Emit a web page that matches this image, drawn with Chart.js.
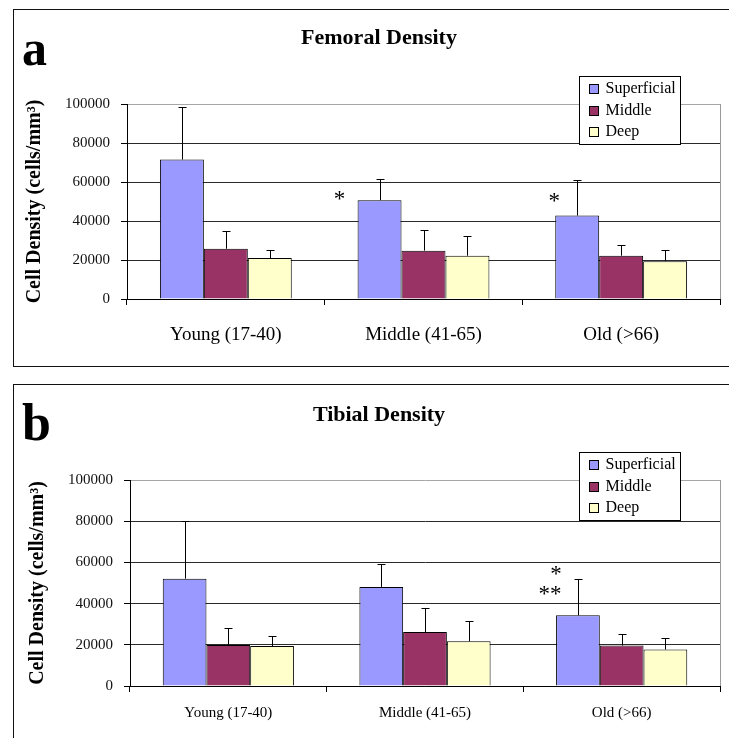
<!DOCTYPE html>
<html>
<head>
<meta charset="utf-8">
<script src="https://cdn.jsdelivr.net/npm/chart.js@4.4.1/dist/chart.umd.min.js"></script>
<style>
  html, body { margin: 0; padding: 0; background: #fff; }
  body {
    width: 729px; height: 738px; position: relative; overflow: hidden;
    font-family: "Liberation Serif", "Times New Roman", serif; color: #000;
  }
  .frame { position: absolute; left: 13px; width: 760px; border: 1px solid #111; }
  canvas { position: absolute; left: 0; }
  .title {
    position: absolute; left: 0; width: 758px; text-align: center;
    font-weight: bold; font-size: 22px; line-height: 24px; z-index: 2;
  }
  .letter { position: absolute; left: 22px; font-weight: bold; line-height: 1; z-index: 2; }
</style>
</head>
<body>

<div class="frame" style="top:9px; height:356px;"></div>
<div class="frame" style="top:384px; height:400px;"></div>

<div class="letter" style="top:23px; font-size:50px;">a</div>
<div class="title" style="top:25px;">Femoral Density</div>

<div class="letter" style="top:397px; font-size:52px;">b</div>
<div class="title" style="top:402px;">Tibial Density</div>

<canvas id="chart-a" width="729" height="370" style="top:0;"></canvas>
<canvas id="chart-b" width="729" height="358" style="top:380px;"></canvas>

<script>
// ---- data ----
const groups = ['Young (17-40)', 'Middle (41-65)', 'Old (>66)'];
const layers = ['Superficial', 'Middle', 'Deep'];
const layerColors = ['#9999FF', '#993366', '#FFFFCC'];
const yTitle = 'Cell Density (cells/mm³)';

// femoral (panel a): means and SD (error bars go up only)
const femSuperficial = [71500, 50700, 42800];
const femMiddle = [25800, 24800, 22200];
const femDeep = [21000, 22200, 19400];
const femSuperficialSD = [27100, 10900, 18200];
const femMiddleSD = [9300, 10500, 5500];
const femDeepSD = [4300, 10000, 5600];

// tibial (panel b)
const tibSuperficial = [52100, 48100, 34300];
const tibMiddle = [19900, 26200, 19600];
const tibDeep = [19400, 21700, 17700];
const tibSuperficialSD = [27800, 11000, 17600];
const tibMiddleSD = [8100, 11500, 5500];
const tibDeepSD = [4700, 9900, 5600];

// significance marks: group index, height in data units, text
const femMarks = [
  { group: 1, value: 53400, text: '*', dx: -18 },
  { group: 2, value: 52200, text: '*', dx: -1 }
];
const tibMarks = [
  { group: 2, value: 56500, text: '*', dx: 0 },
  { group: 2, value: 46800, text: '**', dx: -6 }
];

const serif = '"Liberation Serif", "Times New Roman", serif';

// ---- plugins ----
const errorBars = {
  id: 'errorBars',
  afterDatasetsDraw(chart) {
    const { ctx, scales: { y } } = chart;
    ctx.save();
    ctx.strokeStyle = '#000';
    ctx.lineWidth = 1;
    chart.data.datasets.forEach((ds, i) => {
      const meta = chart.getDatasetMeta(i);
      meta.data.forEach((bar, j) => {
        const top = Math.round(y.getPixelForValue(ds.data[j] + ds.errors[j])) + 0.5;
        const x = Math.round(bar.x) + 0.5;
        ctx.beginPath();
        ctx.moveTo(x, bar.y);
        ctx.lineTo(x, top);
        ctx.moveTo(x - 4, top);
        ctx.lineTo(x + 4, top);
        ctx.stroke();
      });
    });
    ctx.restore();
  }
};

const plotEdge = {
  id: 'plotEdge',
  beforeDatasetsDraw(chart) {
    const { ctx, chartArea: a } = chart;
    ctx.save();
    ctx.strokeStyle = '#9a9a9a';
    ctx.lineWidth = 1;
    ctx.beginPath();
    ctx.moveTo(Math.round(a.right) + 0.5, a.top);
    ctx.lineTo(Math.round(a.right) + 0.5, a.bottom);
    ctx.stroke();
    ctx.restore();
  }
};

const sigMarks = {
  id: 'sigMarks',
  afterDatasetsDraw(chart, args, opts) {
    const { ctx, scales: { y } } = chart;
    const meta = chart.getDatasetMeta(0);
    ctx.save();
    ctx.fillStyle = '#000';
    ctx.font = '23px ' + serif;
    ctx.textAlign = 'center';
    ctx.textBaseline = 'alphabetic';
    (opts.items || []).forEach(m => {
      const bar = meta.data[m.group];
      const x = bar.x - bar.width / 2 + m.dx;
      ctx.fillText(m.text, x, y.getPixelForValue(m.value) + 11);
    });
    ctx.restore();
  }
};

// boxed legend sitting over the top-right corner of the plot
const boxLegend = {
  id: 'boxLegend',
  afterDraw(chart) {
    const { ctx, chartArea: a } = chart;
    const left = Math.round(a.right) - 141 + 0.5;
    const top = Math.round(a.top) - 28 + 0.5;
    ctx.save();
    ctx.fillStyle = '#fff';
    ctx.fillRect(left, top, 101, 68);
    ctx.strokeStyle = '#000';
    ctx.lineWidth = 1;
    ctx.strokeRect(left, top, 101, 68);
    ctx.font = '16px ' + serif;
    ctx.textBaseline = 'middle';
    ctx.textAlign = 'left';
    chart.data.datasets.forEach((ds, i) => {
      const cy = top + 12.5 + i * 21.5;
      const sy = Math.round(cy - 5) + 0.5;
      ctx.fillStyle = ds.backgroundColor;
      ctx.fillRect(left + 10, sy, 9, 9);
      ctx.strokeRect(left + 10, sy, 9, 9);
      ctx.fillStyle = '#000';
      ctx.fillText(ds.label, left + 26, cy);
    });
    ctx.restore();
  }
};

// ---- builder ----
function makeChart(id, series, errors, marks, box) {
  const ctx = document.getElementById(id).getContext('2d');
  return new Chart(ctx, {
    type: 'bar',
    data: {
      labels: groups,
      datasets: layers.map((name, i) => ({
        label: name,
        data: series[i],
        errors: errors[i],
        backgroundColor: layerColors[i],
        borderColor: '#000',
        borderWidth: 1,
        categoryPercentage: 0.667,
        barPercentage: 1.0
      }))
    },
    options: {
      responsive: false,
      animation: false,
      devicePixelRatio: 1,
      layout: { padding: { top: box.top, right: 9, left: 0, bottom: 0 } },
      plugins: {
        legend: { display: false },
        tooltip: { enabled: false },
        sigMarks: { items: marks }
      },
      scales: {
        x: {
          afterFit: s => { s.height = box.xHeight; },
          grid: { offset: true, drawOnChartArea: false, tickLength: 6, color: '#000' },
          border: { color: '#000' },
          ticks: {
            color: '#000',
            padding: box.labelPad,
            font: { family: serif, size: box.labelSize }
          }
        },
        y: {
          min: 0,
          max: 100000,
          afterFit: s => { s.width = box.yWidth; },
          grid: {
            tickLength: 6,
            color: c => (c.tick && c.tick.value === 100000) ? '#a6a6a6' : '#2a2a2a',
            tickColor: '#000'
          },
          border: { color: '#000' },
          ticks: {
            stepSize: 20000,
            color: '#111',
            padding: 11,
            font: { family: serif, size: 15 },
            callback: v => String(v)
          },
          title: {
            display: true,
            text: yTitle,
            color: '#000',
            padding: { top: box.titlePad, bottom: 0 },
            font: { family: serif, size: 20, weight: 'bold' }
          }
        }
      }
    },
    plugins: [plotEdge, errorBars, sigMarks, boxLegend]
  });
}

makeChart('chart-a',
  [femSuperficial, femMiddle, femDeep],
  [femSuperficialSD, femMiddleSD, femDeepSD],
  femMarks,
  { top: 104, xHeight: 71, yWidth: 127, labelPad: 19, labelSize: 19, titlePad: 23 });

makeChart('chart-b',
  [tibSuperficial, tibMiddle, tibDeep],
  [tibSuperficialSD, tibMiddleSD, tibDeepSD],
  tibMarks,
  { top: 100, xHeight: 52, yWidth: 130, labelPad: 12, labelSize: 15, titlePad: 26 });
</script>
</body>
</html>
